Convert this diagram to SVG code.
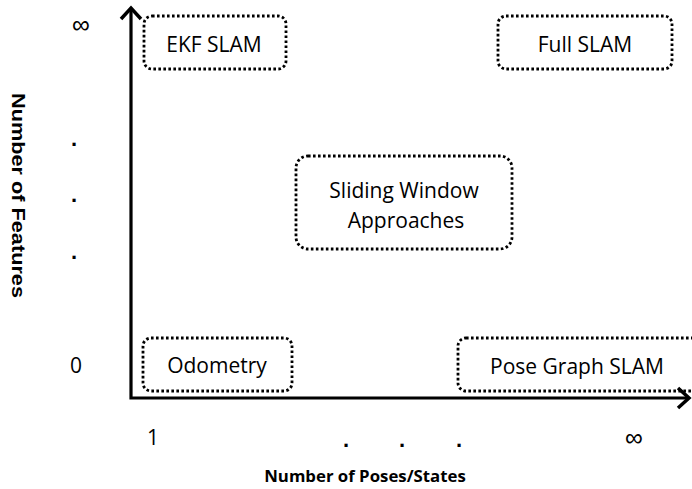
<svg xmlns="http://www.w3.org/2000/svg" width="692" height="489" viewBox="0 0 692 489">
<style>
.box{fill:none;stroke:#000;stroke-width:2.8;stroke-dasharray:2.6 2.4}
.lbl{font-family:"Open Sans","Liberation Sans",sans-serif;font-size:21px;fill:#000;text-anchor:middle}
.inf{font-family:"Liberation Sans",Arial,sans-serif;font-size:25px;fill:#000;text-anchor:middle}
.dot{font-family:"Liberation Sans",Arial,sans-serif;font-size:22px;font-weight:bold;fill:#000;text-anchor:middle}
.axl{font-family:"Open Sans","Liberation Sans",sans-serif;font-size:16.8px;font-weight:bold;fill:#000;text-anchor:middle}
.vl{font-family:"Liberation Sans",Arial,sans-serif;font-size:18px;font-weight:bold;fill:#000;text-anchor:middle}
</style>
<defs>
<marker id="arr" markerUnits="userSpaceOnUse" viewBox="-16 -16 32 32" markerWidth="32" markerHeight="32" refX="0" refY="0" orient="auto-start-reverse">
<path d="M-11,-10 L0,0 L-11,10" fill="none" stroke="#000" stroke-width="3.5" stroke-linejoin="miter"/>
</marker>
</defs>
<rect width="692" height="489" fill="#fff"/>
<g id="connectors">
<path d="M131,8 V398 H689" fill="none" stroke="#000" stroke-width="3.2" stroke-linejoin="miter" marker-start="url(#arr)" marker-end="url(#arr)"/>
</g>
<g id="ekf-slam">
<rect class="box" x="144" y="16" width="142" height="53" rx="8"/>
<text class="lbl" x="214" y="52">EKF SLAM</text>
</g>
<g id="full-slam">
<rect class="box" x="498" y="16" width="174" height="53" rx="8"/>
<text class="lbl" x="585" y="52">Full SLAM</text>
</g>
<g id="sliding-window">
<rect class="box" x="296" y="156" width="216" height="93" rx="12"/>
<text class="lbl" x="404" y="198">Sliding Window</text>
<text class="lbl" x="406" y="228">Approaches</text>
</g>
<g id="odometry">
<rect class="box" x="143" y="338" width="149" height="53" rx="8"/>
<text class="lbl" x="217" y="373">Odometry</text>
</g>
<g id="pose-graph-slam">
<rect class="box" x="458" y="338" width="245" height="53" rx="8"/>
<text class="lbl" x="577" y="374">Pose Graph SLAM</text>
</g>
<g id="axis-labels">
<text class="inf" x="81" y="33">∞</text>
<text class="dot" x="74" y="146">.</text>
<text class="dot" x="74" y="202">.</text>
<text class="dot" x="74" y="259">.</text>
<text class="lbl" x="76" y="373">0</text>
<text class="lbl" x="153" y="445">1</text>
<text class="dot" x="346" y="447">.</text>
<text class="dot" x="402" y="447">.</text>
<text class="dot" x="459" y="447">.</text>
<text class="inf" x="634" y="446">∞</text>
<text class="axl" x="365" y="482">Number of Poses/States</text>
<text class="vl" transform="translate(12,195.5) rotate(90)" x="0" y="0" textLength="205" lengthAdjust="spacingAndGlyphs">Number of Features</text>
</g>
</svg>
